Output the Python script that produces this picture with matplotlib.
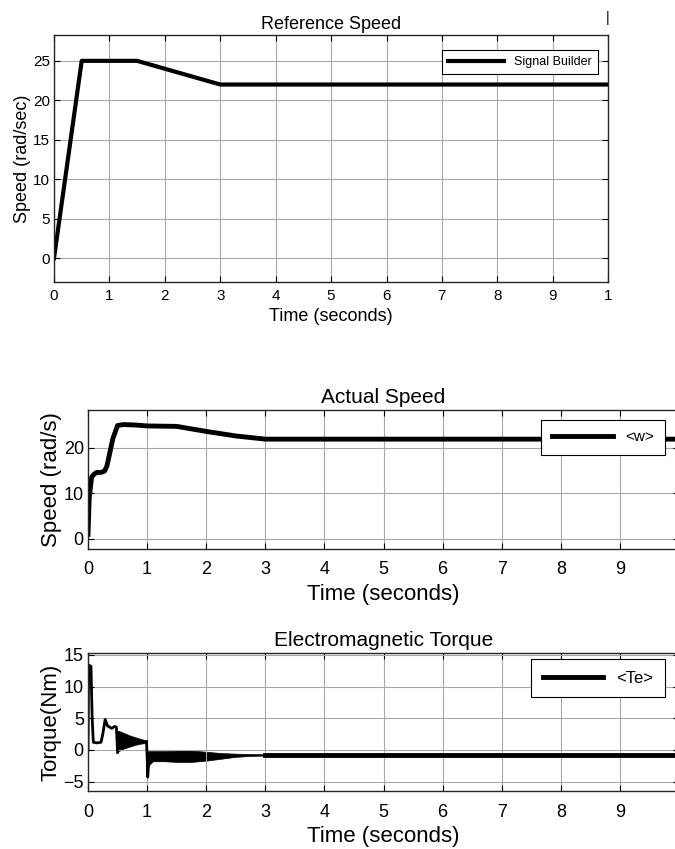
import matplotlib.pyplot as plt
import numpy as np

plt.rcParams['font.family'] = ['Liberation Sans', 'DejaVu Sans']

# Reference speed (signal builder)
t_ref = [0, 0.5, 1.5, 3, 10]
w_ref = [0, 25, 25, 22, 22]

# Actual speed <w>
t_w = [0, 0.02, 0.06, 0.1, 0.15, 0.22, 0.28, 0.32, 0.42, 0.5, 0.6, 0.8, 1.0, 1.5, 2.0, 2.5, 3.0, 3.2, 10]
w_act = [1, 9, 13.5, 14.2, 14.6, 14.6, 14.9, 16, 22, 24.9, 25.1, 25.0, 24.8, 24.7, 23.6, 22.6, 21.9, 21.9, 21.9]

# Electromagnetic torque <Te>: mean trace and oscillation envelope
t_te = [0, 0.01, 0.05, 0.07, 0.09, 0.15, 0.22, 0.25, 0.29, 0.33, 0.4, 0.45, 0.48, 0.5]
te = [0, 13.4, 13.2, 5, 1.2, 1.1, 1.2, 2.5, 4.8, 3.8, 3.4, 3.7, 3.6, -0.4]

t_band1 = [0.5, 0.52, 0.6, 0.7, 0.8, 0.9, 0.99]
hi_band1 = [3.0, 3.0, 2.7, 2.3, 2.0, 1.7, 1.5]
lo_band1 = [-0.4, -0.2, 0.2, 0.5, 0.8, 1.0, 1.1]

t_spike = [0.99, 1.0, 1.01, 1.03]
te_spike = [1.3, -1, -4.3, -1.5]

t_band2 = [1.0, 1.05, 1.1, 1.3, 1.5, 1.75, 2.0, 2.25, 2.5, 2.75, 3.0, 3.3]
hi_band2 = [-0.2, -0.2, -0.2, -0.2, -0.1, -0.1, -0.3, -0.5, -0.6, -0.65, -0.7, -0.75]
lo_band2 = [-3.0, -2.2, -1.8, -1.8, -1.9, -1.9, -1.7, -1.4, -1.1, -0.95, -0.9, -0.85]

t_steady = [3.0, 10]
te_steady = [-0.8, -0.8]

grid_kw = dict(color='#a8a8a8', linewidth=0.8)

fig = plt.figure(figsize=(6.75, 8.49), dpi=100)


def style(ax, fs, pad):
    ax.tick_params(direction='in', top=True, right=True, labelsize=fs, length=4)
    ax.tick_params(axis='x', pad=pad)
    ax.tick_params(axis='y', pad=3)
    ax.grid(True, **grid_kw)
    for s in ax.spines.values():
        s.set_linewidth(1.0)
        s.set_color('#262626')


def box_legend(ax, anchor, fs, hl, bpad):
    leg = ax.legend(loc='upper right', bbox_to_anchor=anchor, fontsize=fs, fancybox=False,
                    framealpha=1, edgecolor='black', handlelength=hl, borderpad=bpad,
                    borderaxespad=0)
    leg.get_frame().set_linewidth(0.8)


# Reference Speed
ax1 = fig.add_axes([0.08, 0.668, 0.821, 0.291])
ax1.plot(t_ref, w_ref, color='black', linewidth=3, label='Signal Builder')
ax1.set_xlim(0, 10)
ax1.set_ylim(-3, 28.3)
ax1.set_xticks(range(11))
ax1.set_xticklabels([str(i) for i in range(10)] + ['1'])
ax1.set_yticks([0, 5, 10, 15, 20, 25])
ax1.set_title('Reference Speed', fontsize=13, pad=4)
ax1.set_xlabel('Time (seconds)', fontsize=13, labelpad=4)
ax1.set_ylabel('Speed (rad/sec)', fontsize=13, labelpad=1)
style(ax1, 11, 5)
box_legend(ax1, (0.982, 0.939), 9, 4.5, 0.5)
fig.text(0.9, 0.979, '|', fontsize=10, ha='center', va='center')

# Actual Speed
ax2 = fig.add_axes([0.1304, 0.3534, 0.8756, 0.1637])
ax2.plot(t_w, w_act, color='black', linewidth=3.5, label='<w>')
ax2.set_xlim(0, 10)
ax2.set_ylim(-2.2, 28.3)
ax2.set_xticks(range(10))
ax2.set_yticks([0, 10, 20])
ax2.set_title('Actual Speed', fontsize=15, pad=5)
ax2.set_xlabel('Time (seconds)', fontsize=16, labelpad=4)
ax2.set_ylabel('Speed (rad/s)', fontsize=16, labelpad=1)
style(ax2, 13, 9)
box_legend(ax2, (0.976, 0.93), 11, 4.0, 0.7)

# Electromagnetic Torque
ax3 = fig.add_axes([0.1304, 0.0683, 0.8756, 0.1625])
ax3.plot(t_te, te, color='black', linewidth=2)
ax3.fill_between(t_band1, lo_band1, hi_band1, color='black', linewidth=0.5)
ax3.plot(t_spike, te_spike, color='black', linewidth=2)
ax3.fill_between(t_band2, lo_band2, hi_band2, color='black', linewidth=0.5)
ax3.plot(t_steady, te_steady, color='black', linewidth=3.5, label='<Te>')
ax3.set_xlim(0, 10)
ax3.set_ylim(-6.5, 15.3)
ax3.set_xticks(range(10))
ax3.set_yticks([-5, 0, 5, 10, 15])
ax3.set_title('Electromagnetic Torque', fontsize=15, pad=5)
ax3.set_xlabel('Time (seconds)', fontsize=16, labelpad=4)
ax3.set_ylabel('Torque(Nm)', fontsize=16, labelpad=1)
style(ax3, 13, 9)
box_legend(ax3, (0.976, 0.957), 12, 3.6, 0.7)

fig.savefig('out.png', dpi=100)
